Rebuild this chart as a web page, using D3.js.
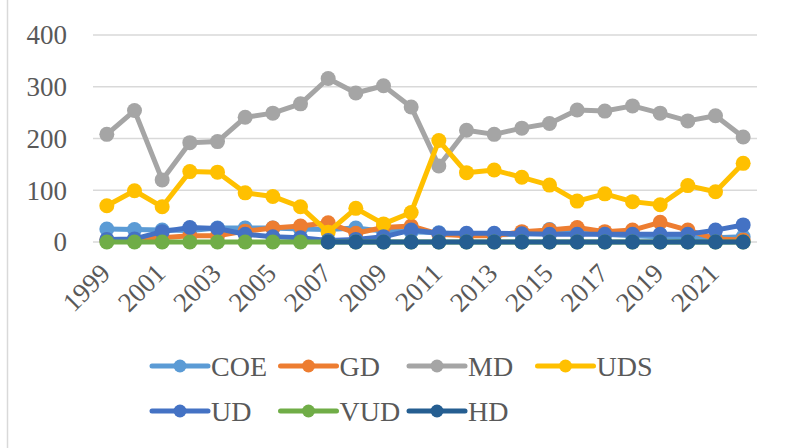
<!DOCTYPE html>
<html>
<head>
<meta charset="utf-8">
<script src="https://cdn.jsdelivr.net/npm/d3@7"></script>
<style>
  body { margin: 0; background: #fff; }
  text { font-family: "Liberation Serif", "Times New Roman", serif; fill: #595959; }
</style>
</head>
<body>
<div id="chart"></div>
<script>
var width = 785,
    height = 448;

var years = d3.range(1999, 2023);
var seriesNames = ["COE", "GD", "MD", "UDS", "UD", "VUD", "HD"];
var colors = ["#5B9BD5", "#ED7D31", "#A5A5A5", "#FFC000", "#4472C4", "#70AD47", "#255E91"];
var yTicks = [0, 100, 200, 300, 400];

var COE = [25, 24, 23, 22, 27, 27, 27, 25, 24, 27, 21, 20, 18, 14, 14, 15, 24, 18, 15, 12, 10, 8, 8, 10];
var GD  = [4, 5, 8, 12, 12, 21, 27, 31, 37, 17, 28, 31, 15, 12, 12, 20, 23, 28, 20, 23, 38, 23, 6, 4];
var MD  = [208, 254, 120, 192, 194, 241, 249, 267, 316, 288, 302, 261, 147, 216, 208, 220, 229, 255, 253, 263, 249, 234, 244, 203];
var UDS = [70, 99, 68, 136, 135, 95, 88, 68, 19, 65, 35, 57, 196, 134, 139, 125, 110, 79, 93, 78, 72, 109, 97, 152];
var UD  = [5, 6, 20, 28, 26, 15, 10, 8, 3, 5, 10, 23, 17, 17, 17, 16, 15, 15, 15, 15, 15, 15, 23, 33];
var VUD = [0, 0, 0, 0, 0, 0, 0, 0, 0, 0, 0, 0, 0, 0, 0, 0, 0, 0, 0, 0, 0, 0, 0, 0];
var HD  = [null, null, null, null, null, null, null, null, 0, 0, 0, 0, 0, 0, 0, 0, 0, 0, 0, 0, 0, 0, 0, 0];

var values = [COE, GD, MD, UDS, UD, VUD, HD];

var svg = d3.select("#chart").append("svg")
    .attr("width", width)
    .attr("height", height);

// left border of the chart frame
svg.append("line")
    .attr("x1", 7.5).attr("x2", 7.5)
    .attr("y1", 0).attr("y2", height)
    .attr("stroke", "#d9d9d9")
    .attr("stroke-width", 1.5);

var x = d3.scalePoint()
    .domain(years)
    .range([93, 757])
    .padding(0.5);

var y = d3.scaleLinear()
    .domain([0, 400])
    .range([242, 35]);

// gridlines
svg.append("g")
  .selectAll("line")
    .data(yTicks)
  .enter().append("line")
    .attr("x1", 93)
    .attr("x2", 757)
    .attr("y1", function(d) { return y(d); })
    .attr("y2", function(d) { return y(d); })
    .attr("stroke", "#d9d9d9")
    .attr("stroke-width", 1.5);

// y labels
svg.append("g")
  .selectAll("text")
    .data(yTicks)
  .enter().append("text")
    .attr("x", 67)
    .attr("y", function(d) { return y(d); })
    .attr("dy", "0.35em")
    .attr("text-anchor", "end")
    .style("font-size", "27px")
    .text(function(d) { return d; });

// x labels, every other year
svg.append("g")
  .selectAll("text")
    .data(years.filter(function(d, i) { return i % 2 === 0; }))
  .enter().append("text")
    .attr("transform", function(d) { return "translate(" + (x(d) + 5) + ",275)rotate(-45)"; })
    .attr("text-anchor", "end")
    .style("font-size", "27px")
    .text(function(d) { return d; });

var line = d3.line()
    .defined(function(d) { return d != null; })
    .x(function(d, i) { return x(years[i]); })
    .y(function(d) { return y(d); });

values.forEach(function(vals, s) {
  var g = svg.append("g").attr("class", "series");
  g.append("path")
      .datum(vals)
      .attr("d", line)
      .attr("fill", "none")
      .attr("stroke", colors[s])
      .attr("stroke-width", 5)
      .attr("stroke-linejoin", "round")
      .attr("stroke-linecap", "round");
  g.selectAll("circle")
      .data(vals.map(function(v, i) { return {v: v, i: i}; }).filter(function(d) { return d.v != null; }))
    .enter().append("circle")
      .attr("cx", function(d) { return x(years[d.i]); })
      .attr("cy", function(d) { return y(d.v); })
      .attr("r", 7.5)
      .attr("fill", colors[s]);
});

// legend
var legend = svg.append("g")
  .selectAll("g")
    .data(seriesNames)
  .enter().append("g")
    .attr("transform", function(d, i) {
      return "translate(" + (152 + (i % 4) * 128.5) + "," + (i < 4 ? 366 : 411) + ")";
    });

legend.append("line")
    .attr("x1", 0).attr("x2", 56)
    .attr("stroke", function(d, i) { return colors[i]; })
    .attr("stroke-width", 5)
    .attr("stroke-linecap", "round");
legend.append("circle")
    .attr("cx", 28)
    .attr("r", 6.5)
    .attr("fill", function(d, i) { return colors[i]; });
legend.append("text")
    .attr("x", 59)
    .attr("dy", "0.35em")
    .style("font-size", "28px")
    .text(function(d) { return d; });
</script>
</body>
</html>
